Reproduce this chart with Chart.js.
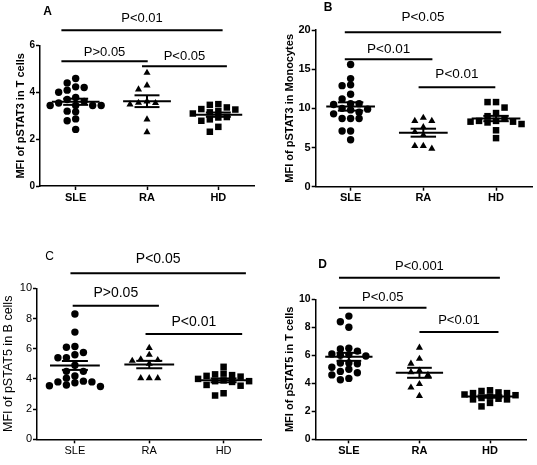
<!DOCTYPE html>
<html><head><meta charset="utf-8">
<script src="https://cdn.jsdelivr.net/npm/chart.js@4.4.1/dist/chart.umd.min.js"></script>
<style>
html,body{margin:0;padding:0;background:#fff;}
#wrap{position:relative;width:537px;height:465px;overflow:hidden;background:#fff;}
#wrap canvas{position:absolute;left:0;top:0;}
</style></head><body>
<div id="wrap">
<canvas id="cA" width="537" height="465"></canvas>
<canvas id="cB" width="537" height="465"></canvas>
<canvas id="cC" width="537" height="465"></canvas>
<canvas id="cD" width="537" height="465"></canvas>
</div>
<script>
// ---------- data ----------
const categories = ['SLE', 'RA', 'HD'];

// A: MFI of pSTAT3 in T cells
const aSLE = [4.60, 4.41, 4.21, 4.01, 4.10, 4.24, 3.79, 3.44, 3.44, 3.44, 3.44, 3.70, 3.62, 3.55, 3.17, 3.20, 2.87, 2.79, 2.42];
const aRA  = [4.84, 4.30, 4.13, 3.62, 3.56, 3.55, 3.49, 2.85, 2.30];
const aHD  = [3.36, 3.50, 3.47, 3.29, 3.27, 3.20, 3.10, 3.15, 2.93, 2.85, 2.79, 2.95, 2.53, 2.32];
// B: MFI of pSTAT3 in Monocytes
const bSLE = [15.6, 13.8, 12.9, 13.0, 11.8, 11.2, 10.6, 10.5, 10.6, 10.0, 9.8, 9.9, 9.3, 9.5, 8.7, 8.7, 8.7, 7.1, 7.1, 6.0];
const bRA  = [8.8, 8.4, 8.4, 7.6, 7.0, 6.6, 5.2, 4.85, 5.2];
const bHD  = [10.8, 10.8, 10.1, 9.4, 9.0, 8.7, 8.4, 8.3, 8.2, 8.3, 8.0, 8.4, 7.2, 6.2];
// C: MFI of pSTAT5 in B cells
const cSLE = [8.3, 7.1, 6.15, 6.1, 5.75, 5.6, 5.4, 5.4, 4.9, 4.5, 4.5, 4.2, 4.05, 3.85, 3.8, 3.8, 3.75, 3.6, 3.55, 3.5];
const cRA  = [6.05, 5.6, 5.3, 5.25, 5.2, 5.0, 4.05, 4.05, 4.05];
const cHD  = [4.8, 4.35, 4.3, 4.25, 4.2, 4.15, 4.0, 3.9, 3.85, 3.85, 3.8, 3.6, 3.55, 3.05, 2.9];
// D: MFI of pSTAT5 in T cells
const dSLE = [8.8, 8.4, 8.0, 6.5, 6.45, 6.3, 6.1, 6.05, 6.0, 5.95, 5.45, 5.4, 5.45, 5.15, 5.0, 4.85, 4.75, 4.6, 4.35, 4.25];
const dRA  = [6.55, 5.75, 5.4, 4.9, 4.8, 4.6, 3.95, 3.7, 3.1];
const dHD  = [3.5, 3.45, 3.35, 3.3, 3.3, 3.2, 3.15, 3.05, 2.95, 2.9, 2.85, 2.85, 2.6, 2.35];

// y-axis tick ranges
const yTicksA = [0, 2, 4, 6];
const yTicksB = [0, 5, 10, 15, 20];
const yTicksC = [0, 2, 4, 6, 8, 10];
const yTicksD = [0, 2, 4, 6, 8, 10];

// significance labels
const sigA = ['P<0.01', 'P>0.05', 'P<0.05'];
const sigB = ['P<0.05', 'P<0.01', 'P<0.01'];
const sigC = ['P<0.05', 'P>0.05', 'P<0.01'];
const sigD = ['P<0.001', 'P<0.05', 'P<0.01'];

// ---------- layout / style ----------
const FAM = '"Liberation Sans", Arial, Helvetica, sans-serif';
const panels = [
  { id: 'cA', letter: 'A', title: 'MFI of pSTAT3 in T cells', groups: [aSLE, aRA, aHD], yt: yTicksA, sig: sigA,
    x0: 0, area: { left: 40, right: 254, top: 45.7, bottom: 186 }, xMin: -0.5, xMax: 2.5,
    weight: 'bold', titleSize: 11, titleX: 20.7, yFont: 10, xFont: 11, pFont: 13, letterPos: [47.5, 12], letterWeight: 'bold',
    br: [[-0.20, 2.06, 6.66, 7.17], [-0.20, 1.01, 5.34, 5.72], [0.93, 2.12, 5.12, 5.55]] },
  { id: 'cB', letter: 'B', title: 'MFI of pSTAT3 in Monocytes', groups: [bSLE, bRA, bHD], yt: yTicksB, sig: sigB,
    x0: 268, area: { left: 315.7, right: 535, top: 30, bottom: 186.7 }, xMin: -0.48, xMax: 2.5,
    weight: 'bold', titleSize: 11, titleX: 289.7, yFont: 11, xFont: 11, pFont: 13.5, letterPos: [328, 8], letterWeight: 'bold',
    br: [[-0.08, 2.07, 19.71, 21.62], [-0.08, 1.125, 16.26, 17.54], [0.935, 1.99, 12.69, 14.38]] },
  { id: 'cC', letter: 'C', title: 'MFI of pSTAT5 in B cells', groups: [cSLE, cRA, cHD], yt: yTicksC, sig: sigC,
    x0: 0, area: { left: 37, right: 261.5, top: 288.3, bottom: 439.3 }, xMin: -0.51, xMax: 2.51,
    weight: 'normal', titleSize: 12.5, titleX: 8.5, yFont: 11, xFont: 11, pFont: 14, letterPos: [49.5, 257], letterWeight: 'normal',
    br: [[-0.06, 2.30, 10.99, 11.92], [-0.03, 1.13, 8.85, 9.67], [0.95, 2.25, 6.97, 7.79]] },
  { id: 'cD', letter: 'D', title: 'MFI of pSTAT5 in T cells', groups: [dSLE, dRA, dHD], yt: yTicksD, sig: sigD,
    x0: 268, area: { left: 315.7, right: 526, top: 299.3, bottom: 439.3 }, xMin: -0.47, xMax: 2.51,
    weight: 'bold', titleSize: 11, titleX: 289.7, yFont: 10.5, xFont: 11, pFont: 13, letterPos: [322.5, 265], letterWeight: 'bold',
    br: [[-0.14, 2.14, 11.54, 12.33], [-0.14, 1.10, 9.40, 10.11], [1.0, 2.12, 7.66, 8.52]] }
];

const styles = ['circle', 'triangle', 'rect'];
const radii = [3.7, 4.1, 4.6];

function stats(a) {
  const n = a.length;
  const m = a.reduce((s, v) => s + v, 0) / n;
  const sd = Math.sqrt(a.reduce((s, v) => s + (v - m) * (v - m), 0) / (n - 1));
  return { m, sem: sd / Math.sqrt(n) };
}

function seg(x1, y1, x2, y2) {
  return { type: 'scatter', showLine: true, data: [{ x: x1, y: y1 }, { x: x2, y: y2 }],
    borderColor: '#000', borderWidth: 2, pointRadius: 0, clip: false, order: 1 };
}

const annot = {
  id: 'annot',
  afterDraw(chart, args, o) {
    const { ctx } = chart;
    const x = chart.scales.x, y = chart.scales.y;
    ctx.save();
    ctx.strokeStyle = '#000';
    ctx.fillStyle = '#000';
    ctx.lineWidth = 2;
    ctx.textAlign = 'center';
    ctx.textBaseline = 'middle';
    ctx.font = `normal ${o.pFont}px ${FAM}`;
    o.br.forEach((b, i) => {
      const x1 = x.getPixelForValue(b[0]), x2 = x.getPixelForValue(b[1]);
      const py = y.getPixelForValue(b[2]);
      ctx.beginPath(); ctx.moveTo(x1, py); ctx.lineTo(x2, py); ctx.stroke();
      ctx.fillText(o.sig[i], (x1 + x2) / 2, y.getPixelForValue(b[3]));
    });
    ctx.font = `${o.letterWeight} 12px ${FAM}`;
    ctx.fillText(o.letter, o.letterPos[0], o.letterPos[1]);
    ctx.restore();
  }
};

// GraphPad-like column scatter: integer horizontal slots, rows may overlap a little
function swarm(chart, groups) {
  const xs = chart.scales.x, ys = chart.scales.y;
  const pxPerCat = xs.getPixelForValue(1) - xs.getPixelForValue(0);
  const d = 6.2, slot = 8.5;
  groups.forEach((vals, gi) => {
    const placed = [];
    const off = new Array(vals.length).fill(0);
    const order = vals.map((v, i) => i).sort((a, b) => vals[b] - vals[a]);
    order.forEach(i => {
      const py = ys.getPixelForValue(vals[i]);
      for (let k = 0; k < 40; k++) {
        const m = k === 0 ? 0 : (k % 2 ? -(k + 1) / 2 : k / 2);
        const px = m * slot;
        if (placed.every(p => Math.abs(p.x - px) > 1 || Math.abs(p.y - py) >= d)) {
          placed.push({ x: px, y: py }); off[i] = px; break;
        }
      }
    });
    chart.data.datasets[gi].data = vals.map((v, i) => ({ x: gi + off[i] / pxPerCat, y: v }));
  });
  chart.update('none');
}

panels.forEach(p => {
  const W = p.area.left - p.x0;
  const H = 30;
  const lh = p.titleSize * 1.2;
  const datasets = p.groups.map((g, gi) => ({
    type: 'scatter', data: g.map(v => ({ x: gi, y: v })),
    pointStyle: styles[gi], pointRadius: radii[gi], pointBackgroundColor: '#000',
    pointBorderWidth: 0, borderWidth: 0, clip: false, order: 0
  }));
  p.groups.forEach((g, gi) => {
    const s = stats(g);
    datasets.push(seg(gi - 0.335, s.m, gi + 0.335, s.m));
    datasets.push(seg(gi - 0.175, s.m + s.sem, gi + 0.175, s.m + s.sem));
    datasets.push(seg(gi - 0.175, s.m - s.sem, gi + 0.175, s.m - s.sem));
    datasets.push(seg(gi, s.m - s.sem, gi, s.m + s.sem));
  });
  const chart = new Chart(document.getElementById(p.id), {
    type: 'scatter',
    data: { datasets },
    plugins: [annot],
    options: {
      responsive: false, animation: false, events: [],
      layout: { padding: { left: p.x0, top: p.area.top, right: 537 - p.area.right, bottom: 465 - p.area.bottom - H } },
      plugins: { legend: { display: false }, tooltip: { enabled: false },
        annot: { br: p.br, sig: p.sig, pFont: p.pFont, letter: p.letter, letterPos: p.letterPos, letterWeight: p.letterWeight } },
      scales: {
        x: {
          type: 'linear', min: p.xMin, max: p.xMax,
          afterFit: s => { s.height = H; },
          afterBuildTicks: s => { s.ticks = categories.map((c, i) => ({ value: i })); },
          grid: { drawOnChartArea: false, drawTicks: true, tickLength: 4, tickColor: '#000', tickWidth: 1.5 },
          border: { display: true, color: '#000', width: 1.5 },
          ticks: { autoSkip: false, maxRotation: 0, padding: 1, color: '#000',
            font: { family: FAM, size: p.xFont, weight: p.weight },
            callback: v => categories[v] !== undefined ? categories[v] : '' }
        },
        y: {
          type: 'linear', min: p.yt[0], max: p.yt[p.yt.length - 1],
          afterFit: s => { s.width = W; },
          afterBuildTicks: s => { s.ticks = p.yt.map(v => ({ value: v })); },
          grid: { drawOnChartArea: false, drawTicks: true, tickLength: 4, tickColor: '#000', tickWidth: 1.5 },
          border: { display: true, color: '#000', width: 1.5 },
          ticks: { padding: 1, color: '#000', font: { family: FAM, size: p.yFont, weight: p.weight } },
          title: { display: true, text: p.title, color: '#000',
            font: { family: FAM, size: p.titleSize, weight: p.weight },
            padding: { top: p.titleX - p.x0 - lh / 2, bottom: 0 } }
        }
      }
    }
  });
  swarm(chart, p.groups);
});
</script>
</body></html>
